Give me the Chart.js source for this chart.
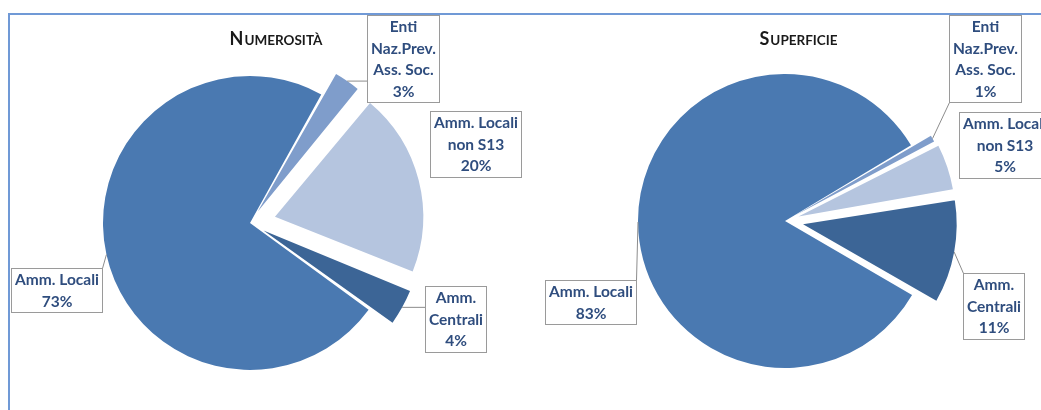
<!DOCTYPE html>
<html>
<head>
<meta charset="utf-8">
<script src="https://cdn.jsdelivr.net/npm/chart.js@4.4.1/dist/chart.umd.min.js"></script>
<style>
  html, body { margin: 0; padding: 0; background: #ffffff; }
  #page { position: relative; width: 1041px; height: 410px; overflow: hidden; }
  #frame {
    position: absolute; left: 8px; top: 13px; right: -10px; bottom: -10px;
    border-top: 2px solid #7099d6; border-left: 2px solid #7099d6;
  }
  canvas { position: absolute; top: 0; }
  #numerositaChart { left: 0; }
  #superficieChart { left: 525px; }
</style>
</head>
<body>
<div id="page">
  <div id="frame"></div>
  <canvas id="numerositaChart" width="525" height="410"></canvas>
  <canvas id="superficieChart" width="516" height="410"></canvas>
</div>
<script>
// categories, clockwise from the first exploded slice
const categories = ['Enti Naz.Prev. Ass. Soc.', 'Amm. Locali non S13', 'Amm. Centrali', 'Amm. Locali'];
const labelLines = [['Enti', 'Naz.Prev.', 'Ass. Soc.'], ['Amm. Locali', 'non S13'], ['Amm.', 'Centrali'], ['Amm. Locali']];
// percentages
const numerositaValues = [3, 20, 4, 73];
const superficieValues = [1, 5, 11, 83];

const sliceColors = ['#7f9dcb', '#b5c5df', '#3c6596', '#4a79b1'];
const textColor = '#2f4d7e';
const labelFont = 'bold 15.5px Lato';
const labelLineHeight = 21.5;

// Chart.js moves an exploded arc by offset/4 * (2 - sin(angle)); invert it so we can think in pixels
function explodeOffsets(values, px) {
    const total = values.reduce(function(a, b) { return a + b; }, 0);
    return values.map(function(v, i) {
        if (!px[i]) return 0;
        const circ = v / total * Math.PI * 2;
        const fix = 1 - Math.sin(Math.min(Math.PI, circ));
        return px[i] * 4 / (1 + fix);
    });
}

// draws small caps title and the boxed data labels with leader lines
const calloutPlugin = {
    id: 'callouts',
    afterDatasetsDraw: function(chart, args, opts) {
        const ctx = chart.ctx;
        const meta = chart.getDatasetMeta(0);
        const values = chart.data.datasets[0].data;
        const total = values.reduce(function(a, b) { return a + b; }, 0);
        const cx = meta.data[0].x;
        const cy = meta.data[0].y;

        // title in small caps
        ctx.save();
        ctx.fillStyle = '#1a1a1a';
        ctx.textBaseline = 'alphabetic';
        const first = opts.title.charAt(0);
        const rest = opts.title.slice(1).toUpperCase();
        ctx.font = 'bold 18px Lato';
        const w1 = ctx.measureText(first).width;
        ctx.font = 'bold 13.5px Lato';
        const w2 = ctx.measureText(rest).width;
        let tx = cx + opts.titleDx - (w1 + w2 + 1) / 2;
        ctx.font = 'bold 18px Lato';
        ctx.fillText(first, tx, opts.titleBaseline);
        ctx.font = 'bold 13.5px Lato';
        ctx.fillText(rest, tx + w1 + 1, opts.titleBaseline);
        ctx.restore();

        meta.data.forEach(function(arc, i) {
            const props = arc.getProps(['startAngle', 'endAngle', 'outerRadius']);
            const mid = (props.startAngle + props.endAngle) / 2;
            const r = props.outerRadius + opts.explode[i];
            const ax = cx + Math.cos(mid) * r;
            const ay = cy + Math.sin(mid) * r;

            const lines = labelLines[i].concat([Math.round(values[i] / total * 100) + '%']);
            ctx.save();
            ctx.font = labelFont;
            let tw = 0;
            lines.forEach(function(l) { tw = Math.max(tw, ctx.measureText(l).width); });
            const bw = Math.round(tw + 7);
            const bh = Math.round(lines.length * labelLineHeight + 1);
            const bx = Math.round(cx + opts.boxes[i][0] - bw / 2) + 0.5;
            const by = Math.round(cy + opts.boxes[i][1] - bh / 2) + 0.5;

            // leader line to the nearest point of the box
            const nx = Math.min(Math.max(ax, bx), bx + bw);
            const ny = Math.min(Math.max(ay, by), by + bh);
            if (Math.hypot(nx - ax, ny - ay) > 14) {
                ctx.strokeStyle = '#8c8c8c';
                ctx.lineWidth = 1;
                ctx.beginPath();
                ctx.moveTo(ax, ay);
                ctx.lineTo(nx, ny);
                ctx.stroke();
            }

            ctx.fillStyle = '#ffffff';
            ctx.fillRect(bx, by, bw, bh);
            ctx.strokeStyle = '#9a9a9a';
            ctx.lineWidth = 1;
            ctx.strokeRect(bx, by, bw, bh);

            ctx.fillStyle = textColor;
            ctx.textAlign = 'center';
            ctx.textBaseline = 'middle';
            lines.forEach(function(l, k) {
                ctx.fillText(l, bx + bw / 2, by + 1 + labelLineHeight * (k + 0.5));
            });
            ctx.restore();
        });
    }
};

function makePie(canvasId, values, rotation, padding, calloutOpts) {
    return new Chart(document.getElementById(canvasId), {
        type: 'pie',
        data: {
            labels: categories,
            datasets: [{
                data: values,
                backgroundColor: sliceColors,
                borderWidth: 0,
                offset: explodeOffsets(values, calloutOpts.explode),
                hoverOffset: 0
            }]
        },
        options: {
            responsive: false,
            animation: false,
            rotation: rotation,
            radius: 147,
            layout: { padding: padding },
            events: [],
            plugins: {
                legend: { display: false },
                title: { display: false },
                tooltip: { enabled: false },
                callouts: calloutOpts
            }
        },
        plugins: [calloutPlugin]
    });
}

makePie('numerositaChart', numerositaValues, 29,
    { left: 0, right: 25, top: 36, bottom: 0 },
    {
        title: 'Numerosità',
        titleDx: 26,
        titleBaseline: 45,
        explode: [25, 27, 27, 0],
        boxes: [[152.5, -164.5], [225, -79.5], [205.5, 96], [-193.5, 67]]
    });

makePie('superficieChart', superficieValues, 59,
    { left: 4, right: 0, top: 32, bottom: 0 },
    {
        title: 'Superficie',
        titleDx: 13.5,
        titleBaseline: 45,
        explode: [22, 24, 25, 0],
        boxes: [[199.5, -162.5], [219.5, -76.5], [208, 84.5], [-195, 80.5]]
    });
</script>
</body>
</html>
